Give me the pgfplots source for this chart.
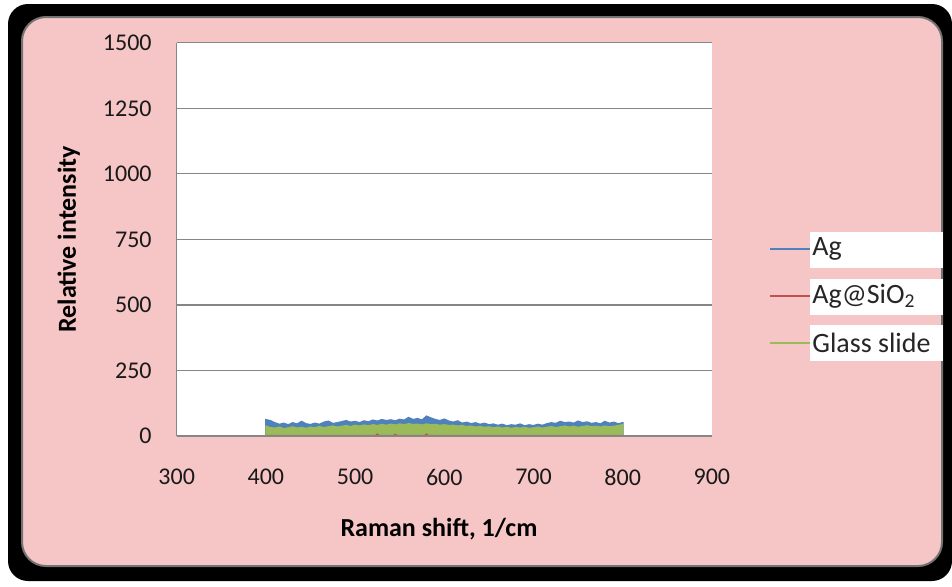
\documentclass[border=0pt]{standalone}
\usepackage{pgfplots}
\pgfplotsset{compat=1.18}
\usepackage{pgfplotstable}
\usepackage{fontspec}
\setmainfont{Carlito}

\definecolor{panelpink}{RGB}{246,198,198}
\definecolor{gridgray}{RGB}{134,134,134}
\definecolor{xlblue}{RGB}{79,129,189}
\definecolor{xlred}{RGB}{192,80,77}
\definecolor{xlgreen}{RGB}{155,187,89}

% Spectra (Raman shift in 1/cm, relative intensity)
\pgfplotstableread{
x y
400 62
405 58
410 50
415 44
420 48
425 42
430 50
435 45
440 55
445 46
450 43
455 48
460 44
465 52
470 56
475 47
480 50
485 54
490 58
495 52
500 55
505 50
510 57
515 53
520 60
525 56
530 62
535 58
540 61
545 57
550 63
555 60
560 70
565 62
570 66
575 60
580 75
585 68
590 62
595 58
600 64
605 56
610 52
615 57
620 48
625 52
630 46
635 50
640 44
645 48
650 42
655 45
660 40
665 44
670 38
675 42
680 40
685 45
690 38
695 42
700 39
705 44
710 40
715 46
720 50
725 47
730 55
735 50
740 52
745 48
750 56
755 50
760 53
765 47
770 50
775 45
780 55
785 48
790 52
795 46
800 50
}\agdata

\pgfplotstableread{
x y
400 38
405 32
410 30
415 34
420 28
425 31
430 35
435 30
440 33
445 29
450 34
455 31
460 36
465 32
470 35
475 38
480 34
485 37
490 40
495 36
500 41
505 38
510 42
515 39
520 43
525 40
530 44
535 41
540 45
545 42
550 46
555 43
560 47
565 44
570 45
575 42
580 46
585 43
590 44
595 41
600 43
605 40
610 41
615 38
620 40
625 36
630 38
635 34
640 36
645 33
650 35
655 31
660 34
665 30
670 33
675 29
680 32
685 30
690 33
695 29
700 31
705 34
710 30
715 33
720 36
725 32
730 35
735 38
740 34
745 37
750 33
755 36
760 39
765 35
770 37
775 34
780 38
785 35
790 37
795 40
800 44
}\glassdata

\pgfplotstableread{
x y
400 0
523 0
525 5
527 0
543 0
545 4
547 0
578 0
580 5
582 0
800 0
}\agsidata

\begin{document}
\begin{tikzpicture}[x=0.5pt,y=0.5pt]
  % page, dark frame and rounded pink panel
  \fill[white] (0,0) rectangle (952,586);
  \fill[black, rounded corners=10pt] (8,5) rectangle (952,582);
  \fill[panelpink, draw=black!55, line width=1pt, rounded corners=12pt] (22,20) rectangle (942,569);

  \begin{axis}[
    at={(88.35pt,75pt)}, anchor=south west,
    scale only axis,
    width=267.6pt, height=196.6pt,
    xmin=300, xmax=900, ymin=0, ymax=1500,
    xtick={300,400,...,900},
    ytick={0,250,...,1500},
    axis on top,
    axis background/.style={fill=white},
    axis x line*=bottom, axis y line*=left,
    axis line style={draw=gridgray, line width=0.7pt, -},
    major tick length=0pt,
    ymajorgrids,
    grid style={draw=gridgray, line width=0.6pt},
    /pgf/number format/assume math mode=true,
    /pgf/number format/1000 sep={},
    ticklabel style={font=\fontsize{12}{14}\selectfont, text=black!90},
    yticklabel style={xshift=-9pt},
    xticklabel style={yshift=-13pt},
    xlabel={Raman shift, 1/cm},
    ylabel={Relative intensity},
    label style={font=\bfseries\fontsize{13}{15}\selectfont},
    xlabel style={at={(axis description cs:0.49,-0.2365)}, anchor=center},
    ylabel style={at={(axis description cs:-0.2018,0.5)}, anchor=center},
  ]
    \addplot[draw=xlblue, fill=xlblue, line width=0.8pt] table[x=x,y=y] {\agdata} \closedcycle;
    \addplot[draw=xlgreen, fill=xlgreen, line width=0.6pt] table[x=x,y=y] {\glassdata} \closedcycle;
    \addplot[draw=xlred, line width=1.1pt] table[x=x,y=y] {\agsidata};
  \end{axis}

  % legend
  \fill[white] (810,318) rectangle (943,354);
  \fill[white] (810,271) rectangle (943,307);
  \fill[white] (810,225) rectangle (943,261);
  \draw[draw=xlblue, line width=1.4pt] (770,337) -- (810,337);
  \draw[draw=xlred, line width=1.4pt] (770,290) -- (810,290);
  \draw[draw=xlgreen, line width=1.4pt] (770,243) -- (810,243);
  \node[anchor=west, inner sep=0pt, font=\fontsize{14}{16}\selectfont, text=black!85] at (812,337) {Ag};
  \node[anchor=west, inner sep=0pt, font=\fontsize{14}{16}\selectfont, text=black!85] at (812,290) {Ag@SiO\textsubscript{2}};
  \node[anchor=west, inner sep=0pt, font=\fontsize{14}{16}\selectfont, text=black!85] at (812,243) {Glass slide};
\end{tikzpicture}
\end{document}
